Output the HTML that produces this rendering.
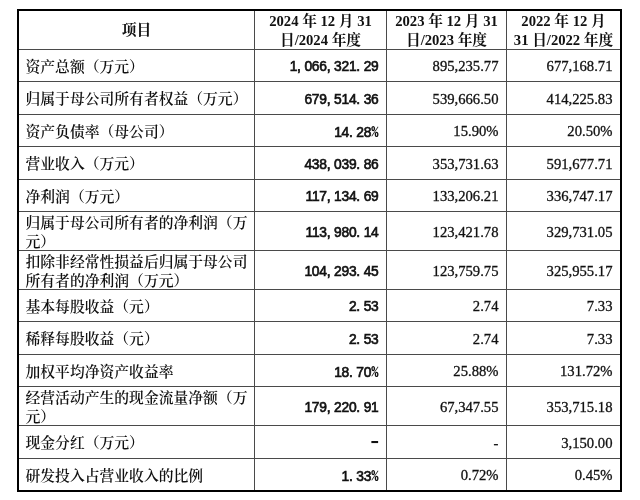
<!DOCTYPE html>
<html lang="zh-CN">
<head>
<meta charset="utf-8">
<title>主要财务数据</title>
<style>
  html,body{margin:0;padding:0;background:#fff;}
  body{width:640px;height:500px;overflow:hidden;position:relative;
    font-family:"Liberation Serif","Noto Serif CJK SC",serif;color:#111;}
  #tbl{position:absolute;left:17px;top:9px;width:601px;height:479px;
    border:2px solid #000;display:grid;
    grid-template-columns:235px 132px 120px 114px;
    grid-template-rows:38px 32px 33px 32px 33px 32px 39px 39px 32px 33px 32px 39px 33px 32px;
    font-size:14.67px;line-height:19.5px;}
  #tbl>div{box-sizing:border-box;border-left:1px solid #4a4a4a;border-top:1px solid #4a4a4a;
    display:flex;align-items:center;justify-content:flex-end;padding:3px 7.5px 0 0;white-space:nowrap;-webkit-text-stroke:0.3px #111;}
  #tbl>div.l{padding-top:4px;border-left:none;justify-content:flex-start;padding-left:6.5px;padding-right:0;white-space:normal;
    font-size:14.8px;font-weight:600;-webkit-text-stroke:0;}
  #tbl>div.h{border-top:none;justify-content:center;text-align:center;font-weight:bold;line-height:18.5px;padding:1px 0 0 0;-webkit-text-stroke:0;}
  #tbl>div.b{font-family:"Liberation Sans","Noto Sans CJK SC",sans-serif;font-size:13.8px;letter-spacing:-0.27px;
    -webkit-text-stroke:0.65px #111;padding-right:7.5px;padding-top:3px;}
  #tbl>div.d{font-family:"Noto Sans CJK SC",sans-serif;font-weight:500;font-feature-settings:"hwid" 1;font-size:23px;-webkit-text-stroke:0;letter-spacing:0;padding:0 5.5px 5px 0;}
  .b i{font-style:normal;display:inline-block;width:7.4px;letter-spacing:0;}
  .b b{font-family:"Noto Sans CJK SC",sans-serif;font-weight:700;font-feature-settings:"hwid" 1;font-size:14.67px;
    letter-spacing:0;-webkit-text-stroke:0;}
</style>
</head>
<body>
<div id="tbl">
  <div class="l h"><span>项目</span></div><div class="h"><span>2024 年 12 月 31<br>日/2024 年度</span></div><div class="h"><span>2023 年 12 月 31<br>日/2023 年度</span></div><div class="h"><span>2022 年 12 月<br>31 日/2022 年度</span></div>
  <div class="l"><span>资产总额（万元）</span></div><div class="b"><span>1<i>,</i>066<i>,</i>321<i>.</i>29</span></div><div><span>895,235.77</span></div><div><span>677,168.71</span></div>
  <div class="l"><span>归属于母公司所有者权益（万元）</span></div><div class="b"><span>679<i>,</i>514<i>.</i>36</span></div><div><span>539,666.50</span></div><div><span>414,225.83</span></div>
  <div class="l"><span>资产负债率（母公司）</span></div><div class="b"><span>14<i>.</i>28<b>%</b></span></div><div><span>15.90%</span></div><div><span>20.50%</span></div>
  <div class="l"><span>营业收入（万元）</span></div><div class="b"><span>438<i>,</i>039<i>.</i>86</span></div><div><span>353,731.63</span></div><div><span>591,677.71</span></div>
  <div class="l"><span>净利润（万元）</span></div><div class="b"><span>117<i>,</i>134<i>.</i>69</span></div><div><span>133,206.21</span></div><div><span>336,747.17</span></div>
  <div class="l"><span>归属于母公司所有者的净利润（万元）</span></div><div class="b"><span>113<i>,</i>980<i>.</i>14</span></div><div><span>123,421.78</span></div><div><span>329,731.05</span></div>
  <div class="l"><span>扣除非经常性损益后归属于母公司所有者的净利润（万元）</span></div><div class="b"><span>104<i>,</i>293<i>.</i>45</span></div><div><span>123,759.75</span></div><div><span>325,955.17</span></div>
  <div class="l"><span>基本每股收益（元）</span></div><div class="b"><span>2<i>.</i>53</span></div><div><span>2.74</span></div><div><span>7.33</span></div>
  <div class="l"><span>稀释每股收益（元）</span></div><div class="b"><span>2<i>.</i>53</span></div><div><span>2.74</span></div><div><span>7.33</span></div>
  <div class="l"><span>加权平均净资产收益率</span></div><div class="b"><span>18<i>.</i>70<b>%</b></span></div><div><span>25.88%</span></div><div><span>131.72%</span></div>
  <div class="l"><span>经营活动产生的现金流量净额（万元）</span></div><div class="b"><span>179<i>,</i>220<i>.</i>91</span></div><div><span>67,347.55</span></div><div><span>353,715.18</span></div>
  <div class="l"><span>现金分红（万元）</span></div><div class="b d"><span>-</span></div><div><span>-</span></div><div><span>3,150.00</span></div>
  <div class="l"><span>研发投入占营业收入的比例</span></div><div class="b"><span>1<i>.</i>33<b>%</b></span></div><div><span>0.72%</span></div><div><span>0.45%</span></div>
</div>
</body>
</html>
